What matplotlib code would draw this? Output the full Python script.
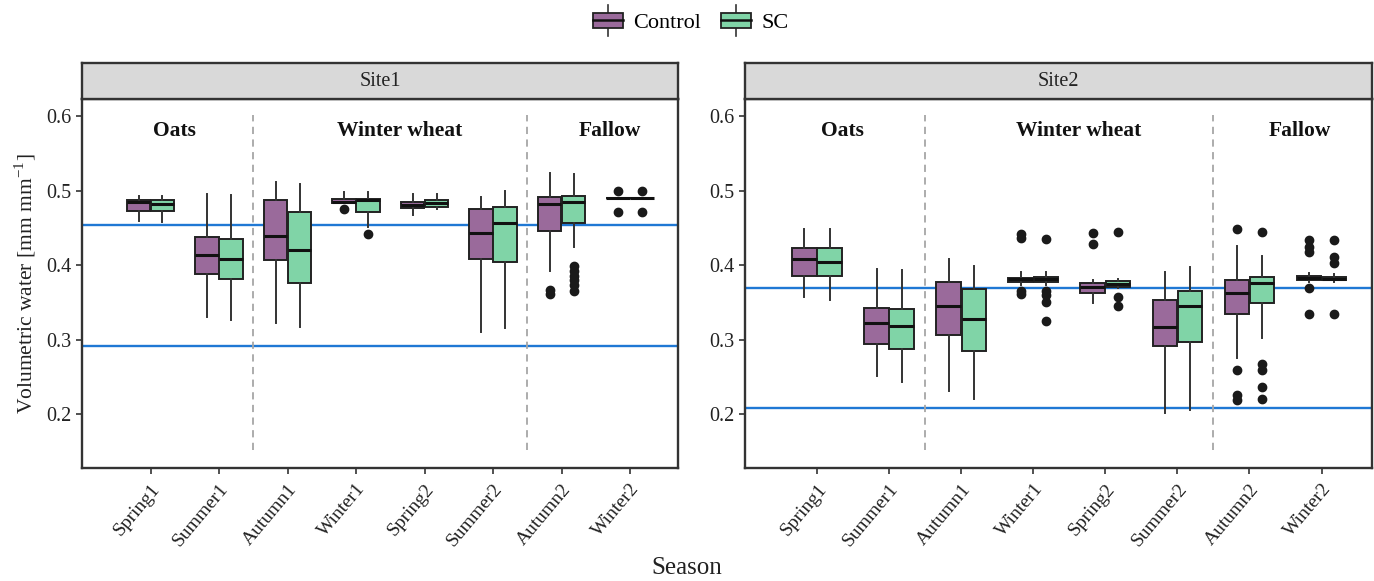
import matplotlib
matplotlib.use("Agg")
import matplotlib.pyplot as plt
from matplotlib.legend_handler import HandlerBase
from matplotlib.patches import Rectangle
from matplotlib.lines import Line2D
import numpy as np

plt.rcParams["font.family"] = ["Liberation Serif", "DejaVu Serif"]
plt.rcParams["mathtext.fontset"] = "stix"

SEASONS = ["Spring1", "Summer1", "Autumn1", "Winter1",
           "Spring2", "Summer2", "Autumn2", "Winter2"]
CROPS = ["Oats", "Winter wheat", "Fallow"]
CROP_X = [1.35, 4.63, 7.7]
CROP_BREAKS = [2.5, 6.5]

# columns: whislo, q1, med, q3, whishi  (one row per season)
SITE1_CONTROL = [
    [0.459, 0.473, 0.485, 0.487, 0.493],
    [0.330, 0.388, 0.414, 0.438, 0.496],
    [0.323, 0.407, 0.439, 0.487, 0.511],
    [0.483, 0.483, 0.485, 0.489, 0.498],
    [0.468, 0.477, 0.481, 0.485, 0.496],
    [0.311, 0.408, 0.443, 0.476, 0.492],
    [0.392, 0.446, 0.482, 0.491, 0.524],
    [0.490, 0.490, 0.490, 0.490, 0.490],
]
SITE1_SC = [
    [0.458, 0.473, 0.482, 0.487, 0.493],
    [0.326, 0.382, 0.409, 0.435, 0.494],
    [0.317, 0.376, 0.420, 0.472, 0.509],
    [0.451, 0.472, 0.488, 0.489, 0.498],
    [0.475, 0.478, 0.484, 0.487, 0.496],
    [0.316, 0.404, 0.457, 0.478, 0.500],
    [0.425, 0.456, 0.485, 0.493, 0.522],
    [0.490, 0.490, 0.490, 0.490, 0.490],
]
SITE1_CONTROL_OUT = [[], [], [], [0.475], [], [], [0.367, 0.362], [0.500, 0.471]]
SITE1_SC_OUT = [[], [], [], [0.442], [], [],
                [0.399, 0.392, 0.386, 0.380, 0.374, 0.366], [0.500, 0.471]]

SITE2_CONTROL = [
    [0.357, 0.386, 0.408, 0.423, 0.448],
    [0.252, 0.294, 0.323, 0.343, 0.395],
    [0.231, 0.307, 0.345, 0.378, 0.408],
    [0.374, 0.378, 0.381, 0.383, 0.391],
    [0.349, 0.363, 0.371, 0.376, 0.380],
    [0.202, 0.292, 0.317, 0.353, 0.391],
    [0.275, 0.334, 0.363, 0.380, 0.426],
    [0.378, 0.380, 0.383, 0.386, 0.389],
]
SITE2_SC = [
    [0.354, 0.386, 0.405, 0.423, 0.448],
    [0.243, 0.287, 0.319, 0.341, 0.393],
    [0.220, 0.285, 0.328, 0.368, 0.399],
    [0.374, 0.378, 0.381, 0.384, 0.391],
    [0.370, 0.371, 0.375, 0.379, 0.382],
    [0.206, 0.297, 0.345, 0.366, 0.397],
    [0.302, 0.349, 0.376, 0.384, 0.413],
    [0.378, 0.380, 0.382, 0.384, 0.388],
]
SITE2_CONTROL_OUT = [[], [], [], [0.442, 0.436, 0.366, 0.362], [0.443, 0.428], [],
                     [0.448, 0.260, 0.226, 0.219], [0.434, 0.425, 0.418, 0.369, 0.334]]
SITE2_SC_OUT = [[], [], [], [0.435, 0.366, 0.360, 0.351, 0.325], [0.444, 0.357, 0.345], [],
                [0.444, 0.267, 0.259, 0.236, 0.221], [0.434, 0.411, 0.403, 0.334]]

SITE1_REF = [0.454, 0.292]
SITE2_REF = [0.370, 0.209]

COLOR_CONTROL = "#9a6a9b"
COLOR_SC = "#80d4a7"


def box_stats(rows, outliers):
    stats = []
    for (lo, q1, med, q3, hi), fl in zip(rows, outliers):
        stats.append({"whislo": lo, "q1": q1, "med": med, "q3": q3,
                      "whishi": hi, "fliers": fl})
    return stats


class BoxKeyHandler(HandlerBase):
    def create_artists(self, legend, orig_handle, xdescent, ydescent,
                       width, height, fontsize, trans):
        color = orig_handle.get_facecolor()
        w = width * 0.9
        x0 = -xdescent + (width - w) / 2
        h = height * 0.85
        y0 = -ydescent + (height - h) / 2
        rect = Rectangle((x0, y0), w, h, facecolor=color, edgecolor="#222222",
                         linewidth=1.3, transform=trans)
        mid = y0 + h / 2
        median = Line2D([x0, x0 + w], [mid, mid], color="#111111", linewidth=1.8,
                        transform=trans)
        cx = x0 + w / 2
        top = Line2D([cx, cx], [y0 + h, y0 + h + height * 0.4], color="#333333",
                     linewidth=1.2, transform=trans)
        bottom = Line2D([cx, cx], [y0, y0 - height * 0.4], color="#333333",
                        linewidth=1.2, transform=trans)
        return [top, bottom, rect, median]


fig = plt.figure(figsize=(13.74, 5.81), dpi=100)

panels = [
    ("Site1", SITE1_CONTROL, SITE1_SC, SITE1_CONTROL_OUT, SITE1_SC_OUT, SITE1_REF,
     [82 / 1374, 596 / 1374]),
    ("Site2", SITE2_CONTROL, SITE2_SC, SITE2_CONTROL_OUT, SITE2_SC_OUT, SITE2_REF,
     [745 / 1374, 627 / 1374]),
]

ax_bottom = 1 - 468 / 581
ax_height = (468 - 99) / 581
strip_height = 36 / 581

positions = np.arange(1, len(SEASONS) + 1)
box_w = 0.34
offset = 0.175

for index, (name, control, sc, control_out, sc_out, ref, (left, width)) in enumerate(panels):
    ax = fig.add_axes([left, ax_bottom, width, ax_height])
    strip = fig.add_axes([left, ax_bottom + ax_height, width, strip_height])

    for y in ref:
        ax.axhline(y, color="#1f78d4", linewidth=1.7, zorder=1)
    for x in CROP_BREAKS:
        ax.vlines(x, 0.152, 0.601, colors="#a6a6a6", linestyles=(0, (4, 3)),
                  linewidth=1.3, zorder=1)

    for rows, out, color, shift in [(control, control_out, COLOR_CONTROL, -offset),
                                    (sc, sc_out, COLOR_SC, offset)]:
        ax.bxp(
            box_stats(rows, out),
            positions=positions + shift,
            widths=box_w,
            patch_artist=True,
            showcaps=False,
            manage_ticks=False,
            boxprops={"facecolor": color, "edgecolor": "#222222", "linewidth": 1.4},
            medianprops={"color": "#111111", "linewidth": 2.2},
            whiskerprops={"color": "#333333", "linewidth": 1.4},
            flierprops={"marker": "o", "markerfacecolor": "#1a1a1a",
                        "markeredgecolor": "#1a1a1a", "markersize": 6},
            zorder=3,
        )

    for crop, cx in zip(CROPS, CROP_X):
        ax.text(cx, 0.580, crop, ha="center", va="center", fontsize=15.5,
                fontweight="bold", color="#111111")

    ax.set_xlim(0.0, 8.7)
    ax.set_ylim(0.128, 0.623)
    ax.set_yticks([0.2, 0.3, 0.4, 0.5, 0.6])
    ax.set_yticklabels(["0.2", "0.3", "0.4", "0.5", "0.6"])
    ax.set_xticks(positions)
    ax.set_xticklabels(SEASONS, rotation=50, ha="right", rotation_mode="anchor")
    ax.tick_params(axis="y", labelsize=14.5, colors="#222222", length=4, width=1.1)
    ax.tick_params(axis="x", labelsize=14, colors="#222222", length=4, width=1.1, pad=5)
    for spine in ax.spines.values():
        spine.set_color("#333333")
        spine.set_linewidth(1.7)
    if index == 0:
        ax.set_ylabel("Volumetric water [mm mm$^{\\mathregular{-1}}$]", fontsize=15.5,
                      color="#222222", labelpad=6)

    strip.set_facecolor("#d9d9d9")
    strip.set_xticks([])
    strip.set_yticks([])
    for spine in strip.spines.values():
        spine.set_color("#333333")
        spine.set_linewidth(1.7)
    strip.text(0.5, 0.5, name, ha="center", va="center", fontsize=14.5,
               color="#222222", transform=strip.transAxes)

fig.text(0.5, 0.022, "Season", ha="center", va="center", fontsize=18, color="#222222")

handles = [Rectangle((0, 0), 1, 1, facecolor=COLOR_CONTROL),
           Rectangle((0, 0), 1, 1, facecolor=COLOR_SC)]
fig.legend(handles, ["Control", "SC"], loc="center", bbox_to_anchor=(0.502, 0.962),
           ncol=2, frameon=False, fontsize=16, handler_map={Rectangle: BoxKeyHandler()},
           handlelength=1.5, handleheight=0.9, columnspacing=0.8, handletextpad=0.4)

fig.savefig("out.png", dpi=100)
